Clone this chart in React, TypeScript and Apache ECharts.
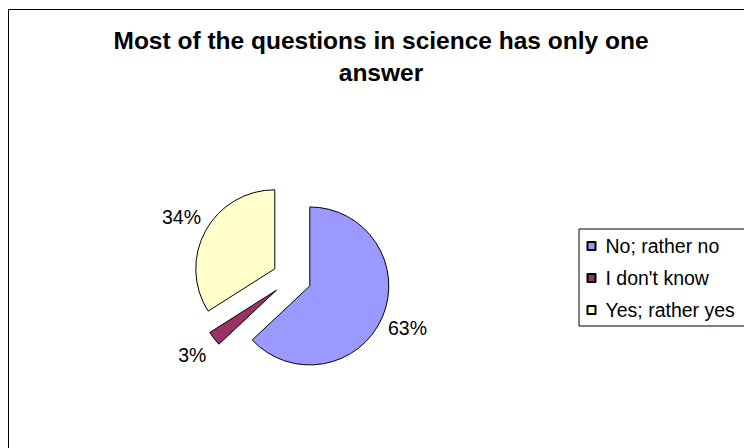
import React, { useEffect, useRef } from "react";
import * as echarts from "echarts";

// Survey answers for the statement in the title
const categories = ["No; rather no", "I don't know", "Yes; rather yes"];
const shares = [63, 3, 34];
const colors = ["#9999FF", "#993366", "#FFFFCC"];

const TITLE = "Most of the questions in science has only one\nanswer";
const FONT = "'Liberation Sans', Arial, sans-serif";

// Pie layout (pixels)
const CX = 291.9;
const CY = 278.2;
const RADIUS = 79;
const EXPLODE = 19.5;
const LABEL_DIST = 126;

export default function App() {
  const ref = useRef<HTMLDivElement>(null);

  useEffect(() => {
    if (!ref.current) return;
    const chart = echarts.init(ref.current, null, { renderer: "svg" });

    // Percentage labels sit on the bisector of each slice, outside the rim
    const total = shares.reduce((a, b) => a + b, 0);
    let acc = 0;
    const percentLabels = shares.map((v) => {
      const mid = ((acc + v / 2) / total) * Math.PI * 2;
      acc += v;
      return {
        type: "text",
        silent: true,
        x: CX + LABEL_DIST * Math.sin(mid),
        y: CY - LABEL_DIST * Math.cos(mid),
        style: {
          text: Math.round((v / total) * 100) + "%",
          fontFamily: FONT,
          fontSize: 19.5,
          fill: "#000",
          textAlign: "center",
          textVerticalAlign: "middle",
        },
      };
    });

    chart.setOption({
      animation: false,
      backgroundColor: "#ffffff",
      title: {
        text: TITLE,
        left: 381,
        top: 24,
        padding: 0,
        textAlign: "center",
        textStyle: {
          fontFamily: FONT,
          fontWeight: "bold",
          fontSize: 24.5,
          lineHeight: 32,
          color: "#000",
        },
      },
      legend: {
        orient: "vertical",
        left: 579,
        top: 229,
        padding: [7, 12, 6, 7.5],
        itemGap: 12,
        itemWidth: 8,
        itemHeight: 8,
        icon: "rect",
        borderColor: "#000",
        borderWidth: 1,
        selectedMode: false,
        data: categories,
        textStyle: {
          fontFamily: FONT,
          fontSize: 19.5,
          lineHeight: 20,
          color: "#000",
          padding: [0, 0, 0, 5],
        },
      },
      graphic: [
        {
          type: "rect",
          z: -1,
          shape: { x: 8.5, y: 9.5, width: 760, height: 460 },
          style: { fill: "none", stroke: "#000", lineWidth: 1 },
          silent: true,
        },
        ...percentLabels,
      ],
      series: [
        {
          type: "pie",
          center: [CX, CY],
          radius: RADIUS,
          startAngle: 90,
          clockwise: true,
          selectedMode: "multiple",
          selectedOffset: EXPLODE,
          avoidLabelOverlap: false,
          emphasis: { disabled: true },
          itemStyle: { borderColor: "#000", borderWidth: 1 },
          label: { show: false },
          labelLine: { show: false },
          data: categories.map((name, i) => ({
            name,
            value: shares[i],
            selected: true,
            itemStyle: { color: colors[i] },
          })),
        },
      ],
    });

    return () => chart.dispose();
  }, []);

  return (
    <div
      ref={ref}
      style={{ position: "absolute", left: 0, top: 0, width: 744, height: 448 }}
    />
  );
}
